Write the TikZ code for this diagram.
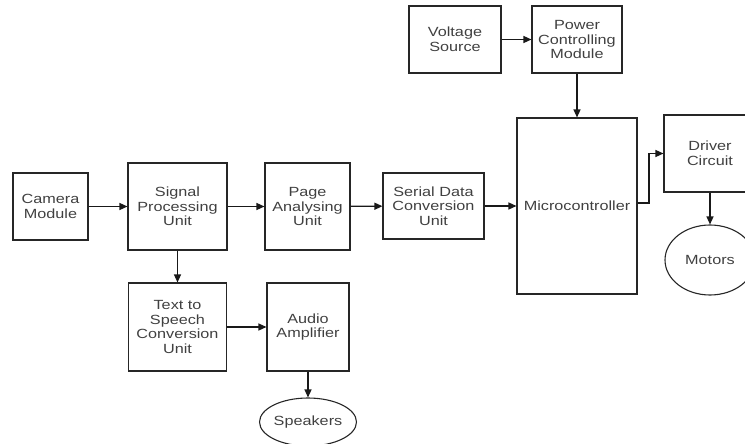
\documentclass[tikz,border=0pt]{standalone}
\usepackage{fontspec}
\setmainfont[FakeStretch=1.22]{Liberation Sans}
\usetikzlibrary{arrows.meta,shapes.geometric}
\begin{document}
\begin{tikzpicture}[x=1pt,y=-1pt,
  blk/.style={draw=black!85,line width=1.1pt,rectangle,align=center,inner sep=0pt,
    font=\fontsize{13.3}{14.7}\selectfont,text=black!75},
  oval/.style={draw=black!85,line width=1.1pt,ellipse,inner sep=0pt,
    font=\fontsize{13.3}{14.7}\selectfont,text=black!75},
  arr/.style={line width=1.3pt,draw=black!90,-{Triangle[length=8pt,width=7pt]}}]
\clip (0,0) rectangle (745,444);
\node[blk,minimum width=75,minimum height=67] (cam) at (50.5,206.5) {Camera\\Module};
\node[blk,minimum width=99,minimum height=87] (sig) at (177.5,206.5) {Signal\\Processing\\Unit};
\node[blk,minimum width=85,minimum height=87] (page) at (307.5,206.5) {Page\\Analysing\\Unit};
\node[blk,minimum width=101,minimum height=66] (ser) at (433.5,206) {Serial Data\\Conversion\\Unit};
\node[blk,minimum width=120,minimum height=176] (mic) at (577,206) {Microcontroller};
\node[blk,minimum width=92,minimum height=67] (volt) at (455,39.5) {Voltage\\Source};
\node[blk,minimum width=90,minimum height=67] (pow) at (577,39.5) {Power\\Controlling\\Module};
\node[blk,minimum width=92,minimum height=77] (drv) at (710,153.5) {Driver\\Circuit};
\node[oval,minimum width=90,minimum height=70] (mot) at (710,260) {Motors};
\node[blk,minimum width=98,minimum height=88] (tts) at (177.5,327) {Text to\\Speech\\Conversion\\Unit};
\node[blk,minimum width=82,minimum height=88] (amp) at (308,327) {Audio\\Amplifier};
\node[oval,minimum width=96,minimum height=48] (spk) at (308,422) {Speakers};
\coordinate (bend) at (649,203);
\draw[arr] (cam) -- (sig);
\draw[arr] (sig) -- (page);
\draw[arr] (page) -- (ser);
\draw[arr] (ser) -- (mic);
\draw[arr] (volt) -- (pow);
\draw[arr] (pow) -- (mic);
\draw[arr] (mic.east |- bend) -- (bend) |- (drv.west);
\draw[arr] (drv) -- (mot);
\draw[arr] (sig) -- (tts);
\draw[arr] (tts) -- (amp);
\draw[arr] (amp) -- (spk);
\end{tikzpicture}
\end{document}
